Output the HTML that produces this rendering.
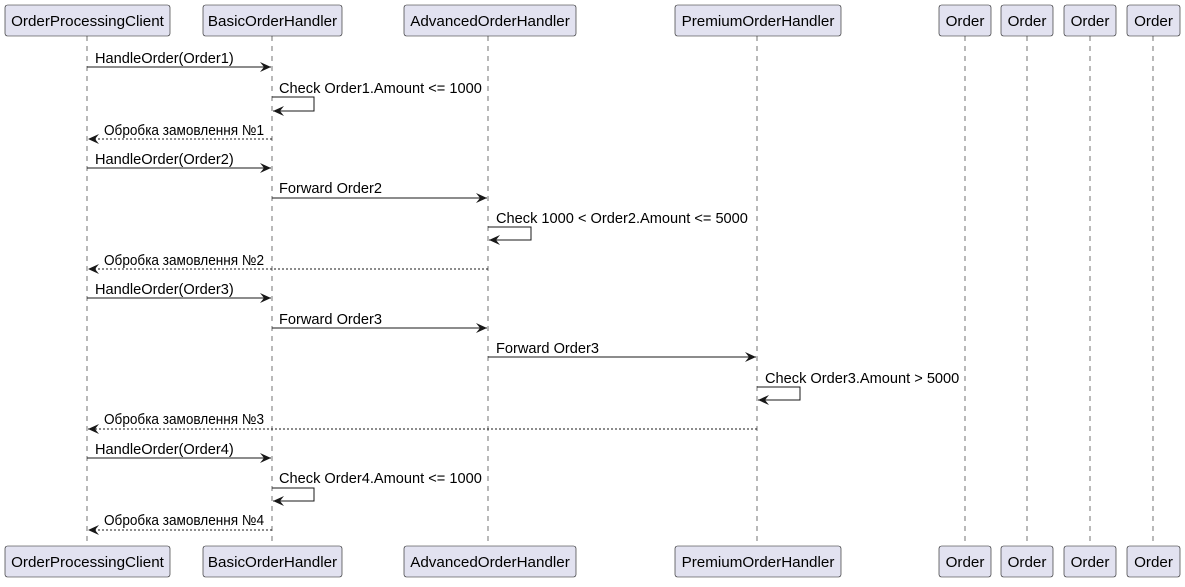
<!DOCTYPE html>
<html><head><meta charset="utf-8"><style>
body{margin:0;background:#fff}
svg text{font-family:"Liberation Sans","DejaVu Sans",sans-serif;font-size:14.6px;fill:#000}
svg text.t{font-size:15.2px}
</style></head><body>
<svg width="1185" height="582" viewBox="0 0 1185 582" xmlns="http://www.w3.org/2000/svg">
<defs>
<marker id="a" viewBox="0 0 12 10" refX="11" refY="5" markerWidth="12" markerHeight="10" markerUnits="userSpaceOnUse" orient="auto"><path d="M0,0 L11,5 L0,10 L4,5 Z" fill="#181818"/></marker>
</defs>
<g stroke="#181818" stroke-width="0.6" stroke-dasharray="5,5">
<line x1="87" y1="36" x2="87" y2="546"/>
<line x1="272" y1="36" x2="272" y2="546"/>
<line x1="488" y1="36" x2="488" y2="546"/>
<line x1="757" y1="36" x2="757" y2="546"/>
<line x1="965" y1="36" x2="965" y2="546"/>
<line x1="1027" y1="36" x2="1027" y2="546"/>
<line x1="1090" y1="36" x2="1090" y2="546"/>
<line x1="1153" y1="36" x2="1153" y2="546"/>
</g>
<g fill="#E2E2F0" stroke="#181818" stroke-width="0.6">
<rect x="5" y="5" width="165" height="31" rx="2.5"/><rect x="203" y="5" width="139" height="31" rx="2.5"/><rect x="404" y="5" width="172" height="31" rx="2.5"/><rect x="675" y="5" width="166" height="31" rx="2.5"/><rect x="939" y="5" width="52" height="31" rx="2.5"/><rect x="1001" y="5" width="52" height="31" rx="2.5"/><rect x="1064" y="5" width="52" height="31" rx="2.5"/><rect x="1127" y="5" width="53" height="31" rx="2.5"/>
<rect x="5" y="546" width="165" height="31" rx="2.5"/><rect x="203" y="546" width="139" height="31" rx="2.5"/><rect x="404" y="546" width="172" height="31" rx="2.5"/><rect x="675" y="546" width="166" height="31" rx="2.5"/><rect x="939" y="546" width="52" height="31" rx="2.5"/><rect x="1001" y="546" width="52" height="31" rx="2.5"/><rect x="1064" y="546" width="52" height="31" rx="2.5"/><rect x="1127" y="546" width="53" height="31" rx="2.5"/>
</g>
<g text-anchor="middle">
<text class="t" x="87.5" y="26" text-anchor="middle">OrderProcessingClient</text><text class="t" x="272.5" y="26" text-anchor="middle">BasicOrderHandler</text><text class="t" x="490" y="26" text-anchor="middle">AdvancedOrderHandler</text><text class="t" x="758" y="26" text-anchor="middle">PremiumOrderHandler</text><text class="t" x="965" y="26" text-anchor="middle">Order</text><text class="t" x="1027" y="26" text-anchor="middle">Order</text><text class="t" x="1090" y="26" text-anchor="middle">Order</text><text class="t" x="1153.5" y="26" text-anchor="middle">Order</text>
<text class="t" x="87.5" y="567" text-anchor="middle">OrderProcessingClient</text><text class="t" x="272.5" y="567" text-anchor="middle">BasicOrderHandler</text><text class="t" x="490" y="567" text-anchor="middle">AdvancedOrderHandler</text><text class="t" x="758" y="567" text-anchor="middle">PremiumOrderHandler</text><text class="t" x="965" y="567" text-anchor="middle">Order</text><text class="t" x="1027" y="567" text-anchor="middle">Order</text><text class="t" x="1090" y="567" text-anchor="middle">Order</text><text class="t" x="1153.5" y="567" text-anchor="middle">Order</text>
</g>
<g stroke="#181818" stroke-width="1" fill="none">
<line x1="87" y1="67" x2="271" y2="67" marker-end="url(#a)"/>
<polyline points="272,97 314,97 314,111 273,111" marker-end="url(#a)"/>
<line x1="272" y1="139" x2="88" y2="139" stroke-dasharray="2,2" marker-end="url(#a)"/>
<line x1="87" y1="168" x2="271" y2="168" marker-end="url(#a)"/>
<line x1="272" y1="198" x2="487" y2="198" marker-end="url(#a)"/>
<polyline points="488,227 531,227 531,240 489,240" marker-end="url(#a)"/>
<line x1="488" y1="269" x2="88" y2="269" stroke-dasharray="2,2" marker-end="url(#a)"/>
<line x1="87" y1="298" x2="271" y2="298" marker-end="url(#a)"/>
<line x1="272" y1="328" x2="487" y2="328" marker-end="url(#a)"/>
<line x1="488" y1="357" x2="756" y2="357" marker-end="url(#a)"/>
<polyline points="757,387 800,387 800,400 758,400" marker-end="url(#a)"/>
<line x1="757" y1="429" x2="88" y2="429" stroke-dasharray="2,2" marker-end="url(#a)"/>
<line x1="87" y1="458" x2="271" y2="458" marker-end="url(#a)"/>
<polyline points="272,488 314,488 314,501 273,501" marker-end="url(#a)"/>
<line x1="272" y1="530" x2="88" y2="530" stroke-dasharray="2,2" marker-end="url(#a)"/>
</g>
<text x="95" y="63">HandleOrder(Order1)</text>
<text x="279" y="93">Check Order1.Amount &lt;= 1000</text>
<text x="104" y="135" textLength="160" lengthAdjust="spacingAndGlyphs">Обробка замовлення №1</text>
<text x="95" y="164">HandleOrder(Order2)</text>
<text x="279" y="193">Forward Order2</text>
<text x="496" y="223">Check 1000 &lt; Order2.Amount &lt;= 5000</text>
<text x="104" y="265" textLength="160" lengthAdjust="spacingAndGlyphs">Обробка замовлення №2</text>
<text x="95" y="294">HandleOrder(Order3)</text>
<text x="279" y="324">Forward Order3</text>
<text x="496" y="353">Forward Order3</text>
<text x="765" y="383">Check Order3.Amount &gt; 5000</text>
<text x="104" y="424" textLength="160" lengthAdjust="spacingAndGlyphs">Обробка замовлення №3</text>
<text x="95" y="454">HandleOrder(Order4)</text>
<text x="279" y="483">Check Order4.Amount &lt;= 1000</text>
<text x="104" y="525" textLength="160" lengthAdjust="spacingAndGlyphs">Обробка замовлення №4</text>
</svg>
</body></html>
